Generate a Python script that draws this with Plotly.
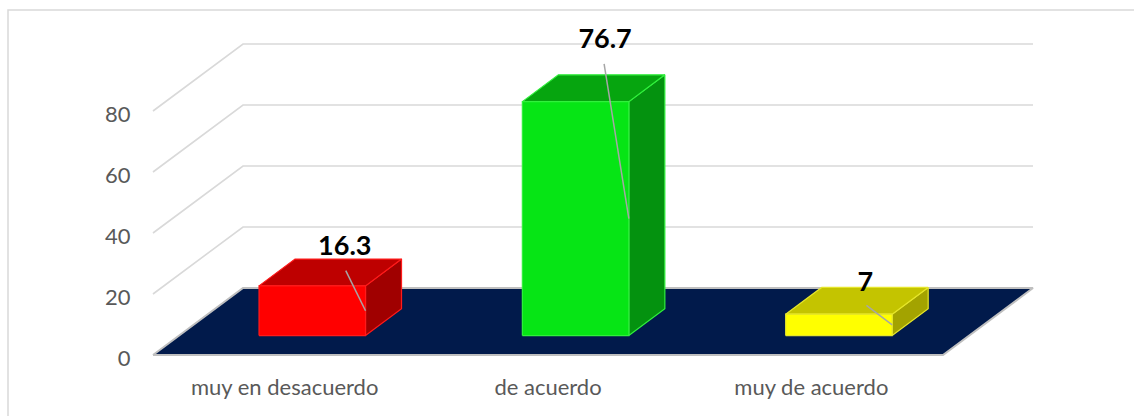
import plotly.graph_objects as go

categories = ["muy en desacuerdo", "de acuerdo", "muy de acuerdo"]
values = [16.3, 76.7, 7]
value_labels = ["16.3", "76.7", "7"]
front_colors = ["#FF0000", "#06E515", "#FFFF00"]
top_colors = ["#BE0000", "#06A50F", "#C4C400"]
side_colors = ["#A00000", "#04920F", "#A3A300"]
edge_colors = ["#FF1A1A", "#30F03C", "#E6E62A"]
y_ticks = [0, 20, 40, 60, 80]

W, H = 1134, 416
FRONT_L, FRONT_R = 153, 943      # front edge of the floor, pixels
ZERO_Y, PX_PER_UNIT = 355, 3.05
PLOT_L, PLOT_R, PLOT_T, PLOT_B = 148, 1040, 30, 358
PX_PER_CAT = (FRONT_R - FRONT_L) / 3
DEPTH_X = 90 / PX_PER_CAT
DEPTH_Y = 67 / PX_PER_UNIT
BAR_W = 106.5 / PX_PER_CAT
BAR_SHIFT = 1.5 / PX_PER_CAT
D0, D1 = 0.29, 0.69
LEFT, RIGHT = -0.5, 2.5
GRID = "#D9D9D9"

X_RANGE = [LEFT - (FRONT_L - PLOT_L) / PX_PER_CAT, RIGHT + (PLOT_R - FRONT_R) / PX_PER_CAT]
Y_RANGE = [-(PLOT_B - ZERO_Y) / PX_PER_UNIT, (ZERO_Y - PLOT_T) / PX_PER_UNIT]

label_offsets_px = [(-2, 10.5), (-5, 34), (-8, 3)]  # from the top back centre of the bar
leader_start_px = [(1, 22), (-1, 23), (1, 21)]       # from the label anchor, downward
leader_end_frac = 0.5


def proj(x, v, d):
    return x + d * DEPTH_X, v + d * DEPTH_Y


def poly(fig, pts, fill, line, width=1.2):
    fig.add_trace(go.Scatter(
        x=[p[0] for p in pts], y=[p[1] for p in pts], mode="lines",
        fill="toself" if fill else None, fillcolor=fill,
        line=dict(color=line, width=width), hoverinfo="skip",
        showlegend=False, cliponaxis=False))


fig = go.Figure()

# walls: gridlines
for t in y_ticks[1:]:
    poly(fig, [proj(LEFT, t, 0), proj(LEFT, t, 1), proj(RIGHT, t, 1)], None, GRID, 1.6)

# floor
poly(fig, [proj(LEFT, 0, 0), proj(LEFT, 0, 1), proj(RIGHT, 0, 1), proj(RIGHT, 0, 0), proj(LEFT, 0, 0)],
     "#011A4B", "#BFBFBF", 2)

for i, v in enumerate(values):
    c = i + BAR_SHIFT
    x0, x1 = c - BAR_W / 2, c + BAR_W / 2
    front = [proj(x0, 0, D0), proj(x1, 0, D0), proj(x1, v, D0), proj(x0, v, D0), proj(x0, 0, D0)]
    top = [proj(x0, v, D0), proj(x1, v, D0), proj(x1, v, D1), proj(x0, v, D1), proj(x0, v, D0)]
    side = [proj(x1, 0, D0), proj(x1, 0, D1), proj(x1, v, D1), proj(x1, v, D0), proj(x1, 0, D0)]
    poly(fig, side, side_colors[i], edge_colors[i])
    poly(fig, top, top_colors[i], edge_colors[i])
    poly(fig, front, front_colors[i], edge_colors[i])

for i, v in enumerate(values):
    ax, ay = proj(i, v, D1)
    dx, dy = label_offsets_px[i]
    lx, ly = ax + dx / PX_PER_CAT, ay + dy / PX_PER_UNIT
    sx = lx + leader_start_px[i][0] / PX_PER_CAT
    sy = ly - leader_start_px[i][1] / PX_PER_UNIT
    ex, ey = proj(i + BAR_SHIFT + BAR_W / 2, v * leader_end_frac, D0)
    poly(fig, [(sx, sy), (ex, ey)], None, "#A6A6A6", 1.5)
    fig.add_trace(go.Scatter(
        x=[lx], y=[ly], mode="text", text=[value_labels[i]], textposition="middle center",
        textfont=dict(family="Lato", size=27, color="#000000", weight="bold"),
        hoverinfo="skip", showlegend=False, cliponaxis=False))

fig.update_layout(
    width=W, height=H, autosize=False,
    margin=dict(l=PLOT_L, r=W - PLOT_R, t=PLOT_T, b=H - PLOT_B, pad=0),
    paper_bgcolor="#FFFFFF", plot_bgcolor="rgba(0,0,0,0)",
    showlegend=False,
    xaxis=dict(range=X_RANGE, tickvals=[0, 1, 2], ticktext=categories,
               showgrid=False, zeroline=False, showline=False,
               ticks="outside", ticklen=10, tickcolor="rgba(0,0,0,0)",
               tickfont=dict(family="Lato", size=22, color="#595959")),
    yaxis=dict(range=Y_RANGE, tickvals=y_ticks, showgrid=False, zeroline=False, showline=False,
               ticks="outside", ticklen=12, tickcolor="rgba(0,0,0,0)", ticklabelshift=3,
               tickfont=dict(family="Lato", size=22, color="#595959")),
    shapes=[dict(type="rect", xref="paper", yref="paper",
                 x0=(8 - PLOT_L) / (PLOT_R - PLOT_L), x1=(1150 - PLOT_L) / (PLOT_R - PLOT_L),
                 y0=(PLOT_B - 440) / (PLOT_B - PLOT_T), y1=(PLOT_B - 10) / (PLOT_B - PLOT_T),
                 line=dict(color=GRID, width=1.5), fillcolor="rgba(0,0,0,0)", layer="below")],
)

fig.write_html("out.html", config={"displayModeBar": False},
               post_script="document.body.style.margin='0';document.body.style.overflow='hidden';")
